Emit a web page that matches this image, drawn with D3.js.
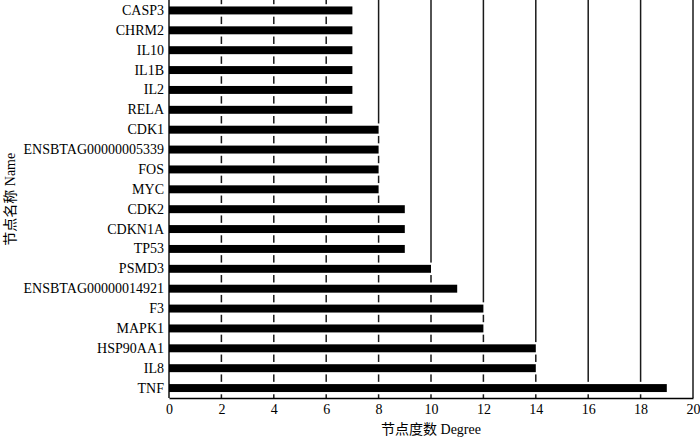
<!DOCTYPE html>
<html><head><meta charset="utf-8">
<script src="https://cdn.jsdelivr.net/npm/d3@7/dist/d3.min.js"></script>
<style>body{margin:0;background:#fff}svg{display:block}</style>
</head><body>
<svg id="c" width="700" height="438"></svg>
<script>
const categories = ["CASP3","CHRM2","IL10","IL1B","IL2","RELA","CDK1","ENSBTAG00000005339","FOS","MYC","CDK2","CDKN1A","TP53","PSMD3","ENSBTAG00000014921","F3","MAPK1","HSP90AA1","IL8","TNF"];
const degrees = [7,7,7,7,7,7,8,8,8,8,9,9,9,10,11,12,12,14,14,19];
const xTicks = [0,2,4,6,8,10,12,14,16,18,20];
const xLabel = "节点度数 Degree";
const yLabel = "节点名称 Name";

(function(){
const svg = d3.select("#c");
const font = "'Liberation Serif','Times New Roman','Noto Sans CJK SC',serif";
const mL = 169, mR = 693, mT = 0.5, mB = 398;
const x = d3.scaleLinear().domain([0,20]).range([mL,mR]);
const y = d3.scaleBand().domain(categories).range([mT,mB]).paddingInner(0.6).paddingOuter(0.3);

// gridlines
svg.append("g").selectAll("line").data(xTicks.slice(1)).join("line")
  .attr("x1",d=>x(d)).attr("x2",d=>x(d)).attr("y1",0).attr("y2",mB)
  .attr("stroke","#1a1a1a").attr("stroke-width",1.5);

// bars
svg.append("g").selectAll("rect").data(categories).join("rect")
  .attr("x",x(0)).attr("y",d=>y(d))
  .attr("width",(d,i)=>x(degrees[i])-x(0)).attr("height",y.bandwidth())
  .attr("fill","#000").attr("stroke","#fff").attr("stroke-width",4.5)
  .attr("paint-order","stroke");

// x axis
const xa = svg.append("g").attr("transform",`translate(0,${mB})`)
  .call(d3.axisBottom(x).tickValues(xTicks).tickSize(0).tickPadding(6).tickFormat(d3.format("d")));
xa.select(".domain").attr("stroke","#000").attr("stroke-width",1.4);
xa.selectAll("text").attr("font-family",font).attr("font-size",14).attr("fill","#000");

// y axis
const ya = svg.append("g").attr("transform",`translate(${mL},0)`)
  .call(d3.axisLeft(y).tickSize(0).tickPadding(5));
ya.select(".domain").attr("stroke","#000").attr("stroke-width",1.4).attr("d",`M0,0V${mB}`);
ya.selectAll("text").attr("font-family",font).attr("font-size",14).attr("fill","#000");

svg.append("text").attr("x",(mL+mR)/2).attr("y",434)
  .attr("text-anchor","middle").attr("font-family",font).attr("font-size",14).text(xLabel);
svg.append("text").attr("transform",`translate(15,${(mT+mB)/2}) rotate(-90)`)
  .attr("text-anchor","middle").attr("font-family",font).attr("font-size",14).text(yLabel);
})();
</script>
</body></html>
